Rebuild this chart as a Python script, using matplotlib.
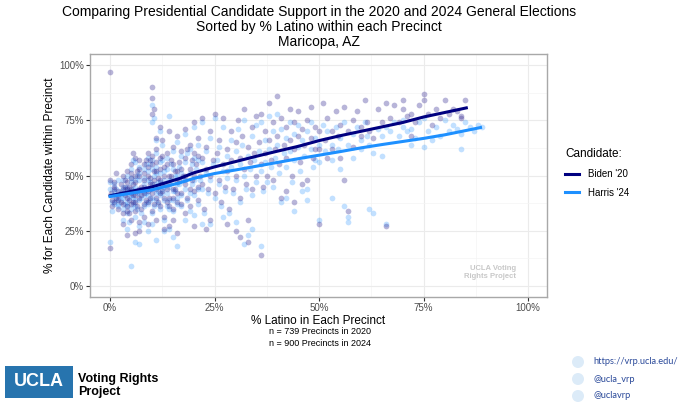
import matplotlib
matplotlib.use('Agg')
import matplotlib.pyplot as plt
from matplotlib.patches import Rectangle, Ellipse
from matplotlib.ticker import FixedLocator, PercentFormatter

# precinct points (% Latino, % for candidate)
biden_x = [0, 0, 0.3, 1, 1, 1.5, 0.5, 1, 2, 2, 1.5, 0, 0.5, 1, 2,
           2.5, 3, 3, 3.5, 4, 4, 4, 4.5, 5, 5, 5, 5.5, 6, 6, 6, 6.5, 7, 7, 7, 7.5,
           8, 8, 8, 3, 4, 6, 7, 5, 6.5, 7.5, 2.5, 3.5, 4.5, 5.5, 6, 7, 8, 8, 4, 5,
           8.5, 9, 9, 9, 9.5, 10, 10, 10.5, 10, 10, 10, 10, 10.5, 11, 11, 11, 11.5,
           12, 12, 12, 12.5, 12.5, 13, 13, 13, 13.5, 14, 14, 14, 14.5, 15, 15, 15,
           15.5, 16, 16, 16, 16.5, 17, 17, 9, 11, 13, 15, 16, 12, 14, 11, 9.5, 13.5,
           17.5, 18, 18, 18, 18.5, 19, 19, 19, 19.5, 20, 20, 20, 20.5, 21, 21, 21.5,
           22, 22, 22, 22.5, 23, 23, 23.5, 24, 24, 24, 24.5, 25, 25, 20, 23, 18,
           25.5, 26, 26, 26.5, 27, 27, 27.5, 28, 28, 28.5, 29, 29, 29.5, 30, 30, 30.5,
           31, 31, 31.5, 32, 32, 32.5, 33, 33, 33.5, 34, 34, 34.5, 35, 35, 30, 31, 33,
           36, 28,
           35.5, 36, 36, 36.5, 37, 37, 37.5, 38, 38, 38.5, 39, 39, 39.5, 40, 40, 40.5,
           41, 41, 41.5, 42, 42, 43, 43, 43.5, 44, 44, 45, 45, 45.5, 46, 46.5, 47, 47,
           48, 48, 48.5, 49, 49, 50, 50, 42, 44, 46,
           51, 51.5, 52, 53, 53, 54, 54.5, 55, 55, 56, 57, 57, 58, 58, 59, 60, 60, 61,
           61.5, 62, 63, 64, 65, 50, 56, 52,
           66, 66, 67, 68, 69, 70, 70, 71, 72, 73, 74, 75, 75, 76, 77, 78, 80, 81, 82,
           83, 84, 85, 84, 79, 72,
           2, 2.5, 3, 3, 3.5, 4, 4, 4.5, 5, 5, 5.5, 5.5, 6, 6, 6.5, 7, 7, 7.5, 8, 8,
           8.5, 8.5, 9, 9, 9.5, 9.5, 10, 10, 10.5, 10.5, 11, 11, 11.5, 11.5, 12, 12,
           12.5, 12.5, 13, 13, 13.5, 13.5, 14, 14, 14.5, 15, 15, 15.5, 16, 16, 16.5,
           17, 17, 18, 18.5, 19, 19.5, 20, 21, 21]
biden_y = [97, 48, 42, 38, 45, 40, 36, 44, 41, 35, 51, 17, 39, 47, 43,
           38, 44, 33, 48, 40, 52, 36, 45, 30, 42, 55, 38, 47, 34, 58, 43, 40, 50, 29, 45,
           37, 55, 42, 28, 23, 24, 25, 49, 52, 35, 46, 41, 33, 60, 41, 57, 48, 31, 44, 37,
           44, 50, 38, 60, 46, 90, 85, 80, 78, 42, 55, 34, 48, 62, 40, 52, 45,
           58, 36, 48, 66, 43, 54, 31, 46, 60, 40, 50, 27, 57, 44, 63, 35,
           52, 47, 68, 38, 56, 42, 61, 28, 30, 26, 30, 24, 72, 70, 67, 57, 38,
           50, 46, 58, 71, 40, 53, 64, 36, 48, 60, 74, 43, 55, 39, 67, 50,
           58, 46, 76, 35, 53, 63, 44, 70, 50, 30, 57, 42, 78, 27, 26, 33,
           60, 48, 66, 38, 55, 76, 45, 62, 52, 35, 70, 57, 44, 65, 50, 75,
           58, 40, 68, 53, 80, 46, 63, 30, 56, 72, 44, 60, 50, 77, 25, 22, 20,
           14, 28,
           65, 55, 78, 45, 70, 60, 50, 83, 66, 57, 74, 48, 62, 86, 68, 55,
           76, 40, 64, 72, 58, 80, 66, 50, 74, 62, 68, 79, 56, 71, 64, 75, 48,
           67, 81, 58, 72, 62, 70, 28, 43, 38, 46,
           83, 66, 76, 70, 62, 79, 68, 73, 58, 81, 70, 34, 75, 63, 79, 72, 68, 84,
           74, 70, 67, 80, 74, 62, 48, 58,
           83, 27, 76, 82, 74, 84, 80, 77, 78, 74, 82, 84, 87, 78, 73, 80, 84, 78, 80,
           79, 77, 84, 76, 76, 68,
           39, 42, 37, 50, 45, 47, 34, 39, 44, 51, 41, 46, 38, 50, 36, 44, 53, 41, 45, 51,
           39, 57, 43, 54, 40, 49, 46, 59, 37, 52, 44, 56, 49, 38, 42, 53,
           46, 59, 40, 50, 44, 55, 36, 46, 50, 40, 55, 44, 52, 42, 48,
           37, 53, 50, 62, 44, 57, 50, 45, 59]

harris_x = [0, 0, 0.5, 1, 1, 1.5, 0.5, 1, 2, 2, 1.5, 0.5, 1, 2, 0,
            2.5, 3, 3, 3.5, 4, 4, 4, 4.5, 5, 5, 5, 5.5, 6, 6, 6, 6.5, 7, 7, 7, 7.5,
            8, 8, 8, 3, 4, 6, 7, 5, 6.5, 7.5, 2.5, 3.5, 4.5, 5.5, 6, 7, 8, 8, 4, 5,
            8.5, 9, 9, 9, 9.5, 10, 10.5, 10, 10, 10, 10, 10.5, 11, 11, 11, 11.5,
            12, 12, 12, 12.5, 12.5, 13, 13, 13, 13.5, 14, 14, 14, 14.5, 15, 15, 15,
            15.5, 16, 16, 16, 16.5, 17, 17, 9, 11, 13, 15, 16, 12, 14, 11, 9.5, 13.5, 10,
            17.5, 18, 18, 18, 18.5, 19, 19, 19, 19.5, 20, 20, 20, 20.5, 21, 21, 21.5,
            22, 22, 22, 22.5, 23, 23, 23.5, 24, 24, 24, 24.5, 25, 25, 20, 22, 18,
            25.5, 26, 26, 26.5, 27, 27, 27.5, 28, 28, 28.5, 29, 29, 29.5, 30, 30, 30.5,
            31, 31, 31.5, 32, 32, 32.5, 33, 33, 33.5, 34, 34, 34.5, 35, 35, 30, 32, 36,
            34, 27,
            35.5, 36, 36, 36.5, 37, 37, 37.5, 38, 38, 38.5, 39, 39, 39.5, 40, 40, 40.5,
            41, 41, 41.5, 42, 42, 43, 43, 43.5, 44, 44, 45, 45, 45.5, 46, 46.5, 47, 47,
            48, 48, 48.5, 49, 49, 50, 50, 42, 44, 46, 47,
            51, 51.5, 52, 53, 53, 54, 54.5, 55, 55, 56, 57, 57, 58, 58, 59, 60, 60, 61,
            61.5, 62, 63, 64, 65, 50, 56, 53, 62, 63, 57,
            66, 66, 67, 68, 69, 70, 70, 71, 72, 73, 74, 75, 75, 76, 77, 78, 80, 81, 82,
            83, 84, 85, 84, 79, 72, 86, 88, 89, 87, 65,
            2, 2.5, 3, 3, 3.5, 4, 4, 4.5, 5, 5, 5.5, 5.5, 6, 6, 6.5, 7, 7, 7.5, 8, 8,
            8.5, 8.5, 9, 9, 9.5, 9.5, 10, 10, 10.5, 10.5, 11, 11, 11.5, 11.5, 12, 12,
            12.5, 12.5, 13, 13, 13.5, 13.5, 14, 14, 14.5, 15, 15, 15.5, 16, 16, 16.5,
            17, 17, 18, 18.5, 19, 19.5, 20, 21, 21]
harris_y = [20, 47, 41, 37, 43, 39, 34, 46, 40, 36, 44, 38, 41, 48, 44,
            39, 45, 35, 42, 38, 50, 33, 43, 9, 41, 53, 37, 45, 31, 56, 42, 39, 48, 27, 44,
            36, 53, 41, 30, 26, 20, 19, 47, 50, 33, 43, 37, 29, 57, 39, 54, 46, 29, 42, 35,
            42, 48, 37, 58, 44, 82, 76, 74, 40, 53, 33, 46, 60, 39, 51, 43,
            56, 35, 47, 64, 42, 52, 30, 45, 58, 39, 48, 26, 55, 43, 61, 34,
            50, 46, 65, 37, 54, 41, 59, 25, 21, 25, 22, 18, 70, 77, 66, 55, 36, 28,
            48, 44, 56, 69, 39, 51, 62, 34, 46, 58, 72, 41, 53, 37, 64, 48,
            56, 44, 74, 33, 51, 61, 42, 67, 48, 28, 55, 40, 76, 32, 28, 30,
            57, 46, 63, 36, 52, 72, 43, 59, 49, 33, 66, 54, 42, 61, 48, 71,
            55, 38, 64, 50, 75, 44, 59, 23, 53, 68, 41, 57, 47, 73, 29, 19, 18,
            26, 31,
            61, 52, 74, 43, 66, 56, 47, 77, 62, 54, 70, 45, 58, 78, 64, 51,
            71, 38, 60, 67, 54, 74, 61, 47, 69, 57, 63, 73, 52, 66, 59, 70, 44,
            62, 74, 54, 67, 57, 64, 30, 40, 34, 43, 39,
            73, 61, 70, 64, 57, 72, 62, 67, 53, 74, 64, 31, 69, 58, 72, 66, 62, 74,
            68, 64, 60, 71, 68, 56, 36, 40, 35, 33, 29,
            72, 28, 70, 74, 68, 75, 72, 70, 71, 67, 74, 76, 63, 70, 66, 72, 75, 70, 73,
            71, 69, 74, 62, 68, 64, 72, 73, 72, 70, 59,
            37, 41, 40, 48, 44, 45, 36, 40, 43, 49, 40, 44, 36, 48, 35, 42, 51, 40, 43, 49,
            38, 55, 41, 52, 39, 47, 44, 57, 36, 50, 42, 54, 47, 37, 41, 51,
            44, 57, 39, 48, 42, 53, 35, 45, 48, 39, 53, 43, 50, 40, 46,
            36, 51, 48, 60, 42, 55, 48, 44, 57]

# smoothed trend lines
biden_fit_x = [0, 5, 10, 16.7, 20, 25, 30, 35, 40, 45, 50, 55, 60, 65, 70, 75, 80, 85.2]
biden_fit_y = [40.8, 42.8, 44.8, 48.7, 51.2, 53.9, 56.3, 58.7, 61, 63.2, 65.8, 68, 70, 72, 74, 76.5, 78.5, 80.6]
harris_fit_x = [0, 5, 10, 16.7, 20, 25, 30, 35, 40, 45, 50, 55, 60, 65, 70, 75, 80, 88.6]
harris_fit_y = [40.5, 42, 43.5, 46.7, 48.7, 50.9, 52.5, 54.2, 55.9, 57.6, 59.2, 60.8, 62.5, 64, 65.4, 66.8, 68.4, 71.7]

ticks = [0, 25, 50, 75, 100]
n_2020 = 739
n_2024 = 900

plt.rcParams['font.family'] = ['Liberation Sans', 'DejaVu Sans']

fig = plt.figure(figsize=(6.8, 4.04), dpi=100)
ax = fig.add_axes([90 / 680, 1 - 297 / 404, 457 / 680, 243 / 404])

ax.scatter(harris_x, harris_y, s=17, color='#1E90FF', alpha=0.27, linewidths=0, zorder=2)
ax.scatter(biden_x, biden_y, s=17, color='#2a1f8c', alpha=0.33, linewidths=0, zorder=3)
ax.plot(biden_fit_x, biden_fit_y, color='#000080', lw=2.2, zorder=4, label="Biden '20")
ax.plot(harris_fit_x, harris_fit_y, color='#1E90FF', lw=2.2, zorder=4, label="Harris '24")

ax.set_xlim(-4.8, 104.5)
ax.set_ylim(-5, 105)
ax.xaxis.set_major_locator(FixedLocator(ticks))
ax.yaxis.set_major_locator(FixedLocator(ticks))
ax.xaxis.set_minor_locator(FixedLocator([12.5, 37.5, 62.5, 87.5]))
ax.yaxis.set_minor_locator(FixedLocator([12.5, 37.5, 62.5, 87.5]))
ax.xaxis.set_major_formatter(PercentFormatter(decimals=0))
ax.yaxis.set_major_formatter(PercentFormatter(decimals=0))
ax.grid(which='major', color='#ebebeb', lw=0.8, zorder=0)
ax.grid(which='minor', color='#f4f4f4', lw=0.5, zorder=0)
ax.set_axisbelow(True)
for sp in ax.spines.values():
    sp.set_color('#a8a8a8')
    sp.set_linewidth(1.0)
ax.tick_params(which='major', length=3, color='#333333', labelsize=7, labelcolor='#4d4d4d', pad=1.5)
ax.tick_params(which='minor', length=0)

ax.set_xlabel('% Latino in Each Precinct', fontsize=8.5, labelpad=1)
ax.set_ylabel('% for Each Candidate within Precinct', fontsize=8.6, labelpad=2)

ax.text(97, 2.5, 'UCLA Voting\nRights Project', fontsize=5.5, color='#c8c8c8',
        fontweight='bold', ha='right', va='bottom', linespacing=1.3)

fig.text(319 / 680, 1 - 12 / 404, 'Comparing Presidential Candidate Support in the 2020 and 2024 General Elections',
         ha='center', va='center', fontsize=10)
fig.text(319 / 680, 1 - 27 / 404, 'Sorted by % Latino within each Precinct', ha='center', va='center', fontsize=10)
fig.text(319 / 680, 1 - 42 / 404, 'Maricopa, AZ', ha='center', va='center', fontsize=10)

fig.text(320 / 680, 1 - 332 / 404, 'n = %d Precincts in 2020' % n_2020, ha='center', va='center', fontsize=6.5)
fig.text(320 / 680, 1 - 343 / 404, 'n = %d Precincts in 2024' % n_2024, ha='center', va='center', fontsize=6.5)

leg = ax.legend(loc='center left', bbox_to_anchor=(1.02, 0.51), frameon=False, title='Candidate:',
                fontsize=7, title_fontsize=8.5, handlelength=1.5, handletextpad=0.9, labelspacing=0.9)
leg._legend_box.align = 'left'

# footer logo
fig.patches.append(Rectangle((5 / 680, 1 - 398 / 404), 68 / 680, 32 / 404, transform=fig.transFigure,
                             facecolor='#2774AE', edgecolor='none'))
fig.text(39 / 680, 1 - 382 / 404, 'UCLA', ha='center', va='center', color='white',
         fontsize=13, fontweight='bold')
fig.text(78 / 680, 1 - 379 / 404, 'Voting Rights', ha='left', va='center', fontsize=9, fontweight='bold')
fig.text(78 / 680, 1 - 392 / 404, 'Project', ha='left', va='center', fontsize=9, fontweight='bold')

links = ['https://vrp.ucla.edu/', '@ucla_vrp', '@uclavrp']
for i, t in enumerate(links):
    yy = 1 - (362 + 17 * i) / 404
    fig.patches.append(Ellipse((578 / 680, yy), 12 / 680, 12 / 404, transform=fig.transFigure,
                               facecolor='#dcebf8', edgecolor='none'))
    fig.text(593 / 680, yy, t, ha='left', va='center', fontsize=6.7, color='#2b4a9a', family='Lato')

fig.savefig('out.png', dpi=100)
